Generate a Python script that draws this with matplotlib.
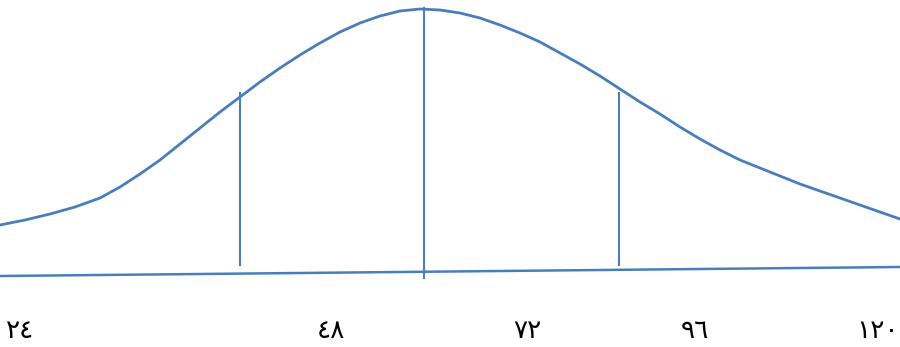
import matplotlib
matplotlib.use("Agg")
import matplotlib.pyplot as plt

# curve (pixel-like units, y grows downward)
curve_x = [0, 25, 50, 75, 100, 120, 140, 160, 180, 200, 220, 240, 260, 280,
           300, 320, 340, 360, 380, 400, 420, 440, 460, 480, 500, 520, 540, 560,
           580, 600, 620, 640, 660, 680, 700, 720, 740, 760, 780, 800, 820, 840,
           860, 880, 900]
curve_y = [225, 220, 214, 207, 198, 187, 174, 160, 144, 128, 112, 97, 82, 68,
           55, 43, 32, 23, 16, 11, 9, 10, 13, 18, 25, 33, 42, 53,
           64, 76, 89, 102, 114, 127, 139, 150, 160, 168, 176, 184, 191, 198,
           205, 212, 219]

base_x = [0, 900]
base_y = [276, 267]

vline_x = [240, 424, 619]
vline_top = [93, 8, 93]
vline_bottom = [265, 278, 265]

labels = ["٢٤", "٤٨", "٧٢", "٩٦", "١٢٠"]
label_x = [20, 331, 527, 695, 878]
label_y = 331

blue = "#4a7ebb"

fig = plt.figure(figsize=(9, 3.47), dpi=100)
ax = fig.add_axes([0, 0, 1, 1])
ax.set_xlim(0, 900)
ax.set_ylim(347, 0)
ax.axis("off")

ax.plot(curve_x, curve_y, color=blue, lw=2.0, solid_joinstyle="round")
ax.plot(base_x, base_y, color=blue, lw=1.8)
for x, t, b in zip(vline_x, vline_top, vline_bottom):
    ax.plot([x, x], [t, b], color=blue, lw=1.5)

for s, x in zip(labels, label_x):
    ax.text(x, label_y, s, ha="center", va="center", fontsize=19,
            family=["DejaVu Sans"], color="black")

fig.savefig("out.png", dpi=100)
